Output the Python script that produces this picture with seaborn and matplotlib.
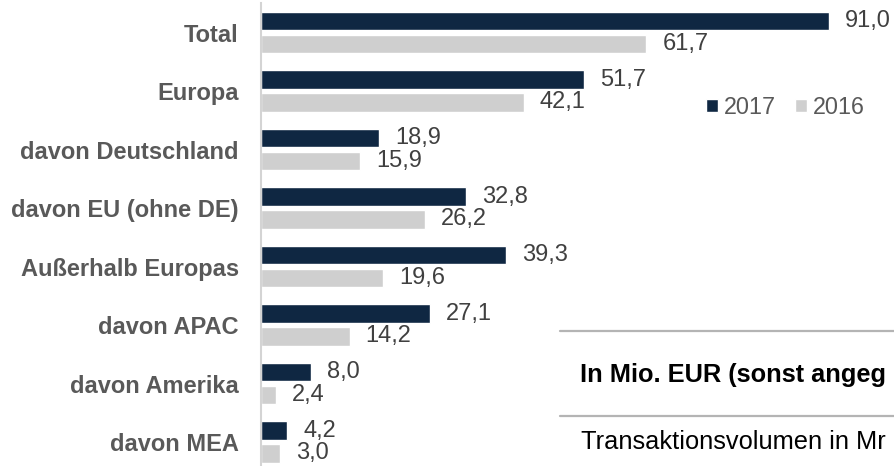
import pandas as pd
import matplotlib.pyplot as plt
import seaborn as sns
from matplotlib.lines import Line2D

sns.set_style("white")
plt.rcParams['font.family'] = ['Liberation Sans', 'DejaVu Sans']

# Chart data
regions = ["Total", "Europa", "davon Deutschland", "davon EU (ohne DE)",
           "Außerhalb Europas", "davon APAC", "davon Amerika", "davon MEA"]
values_2017 = [91.0, 51.7, 18.9, 32.8, 39.3, 27.1, 8.0, 4.2]
values_2016 = [61.7, 42.1, 15.9, 26.2, 19.6, 14.2, 2.4, 3.0]
years = ["2017", "2016"]

df = pd.DataFrame({
    "region": regions * 2,
    "value": values_2017 + values_2016,
    "year": ["2017"] * len(regions) + ["2016"] * len(regions),
})

colors = {"2017": "#07274a", "2016": "#cfcfcf"}

fig = plt.figure(figsize=(8.95, 4.66), dpi=100)
ax = fig.add_axes([261 / 895, 0, (895 - 261) / 895, (466 - 3.25) / 466])

sns.barplot(data=df, y="region", x="value", hue="year", hue_order=years,
            palette=colors, orient="h", width=0.78, gap=0.2,
            errorbar=None, ax=ax)

# value labels with german decimal comma
for cont in ax.containers:
    ax.bar_label(cont, fmt=lambda v: f"{v:.1f}".replace(".", ","),
                 padding=11.5, fontsize=17, color="#404040")

ax.set_xlim(0, (895 - 261) / 6.245)
ax.set_ylim(7.41, -0.5)
ax.set_xticks([])
ax.set_xlabel("")
ax.set_ylabel("")
ax.tick_params(axis="y", length=0, pad=16)
for lab in ax.get_yticklabels():
    lab.set_fontsize(17)
    lab.set_fontweight("bold")
    lab.set_color("#595959")

for side in ["top", "right", "bottom"]:
    ax.spines[side].set_visible(False)
ax.spines["left"].set_color("#d4d4d4")
ax.spines["left"].set_linewidth(1.5)

sns.move_legend(ax, "center left", bbox_to_anchor=(706 / 895, 1 - 107 / 466),
                bbox_transform=fig.transFigure, ncol=2, title=None,
                frameon=False, fontsize=16.8, handlelength=0.5,
                handleheight=0.5, handletextpad=0.25, columnspacing=0.85,
                borderpad=0, borderaxespad=0)
for t in ax.get_legend().get_texts():
    t.set_color("#595959")

# side note box (text as far as it is visible in the original)
fig.add_artist(Line2D([560 / 895, 1], [1 - 330.7 / 466] * 2, color="#b4b4b4", lw=1.6))
fig.add_artist(Line2D([560 / 895, 1], [1 - 415.7 / 466] * 2, color="#b4b4b4", lw=1.6))
fig.text(580.5 / 895, 1 - 375 / 466, "In Mio. EUR (sonst angeg",
         fontsize=18.3, fontweight="bold", color="black", va="center", ha="left")
fig.text(581.5 / 895, 1 - 442 / 466, "Transaktionsvolumen in Mr",
         fontsize=18.3, color="black", va="center", ha="left")

fig.savefig("out.png", dpi=100)
